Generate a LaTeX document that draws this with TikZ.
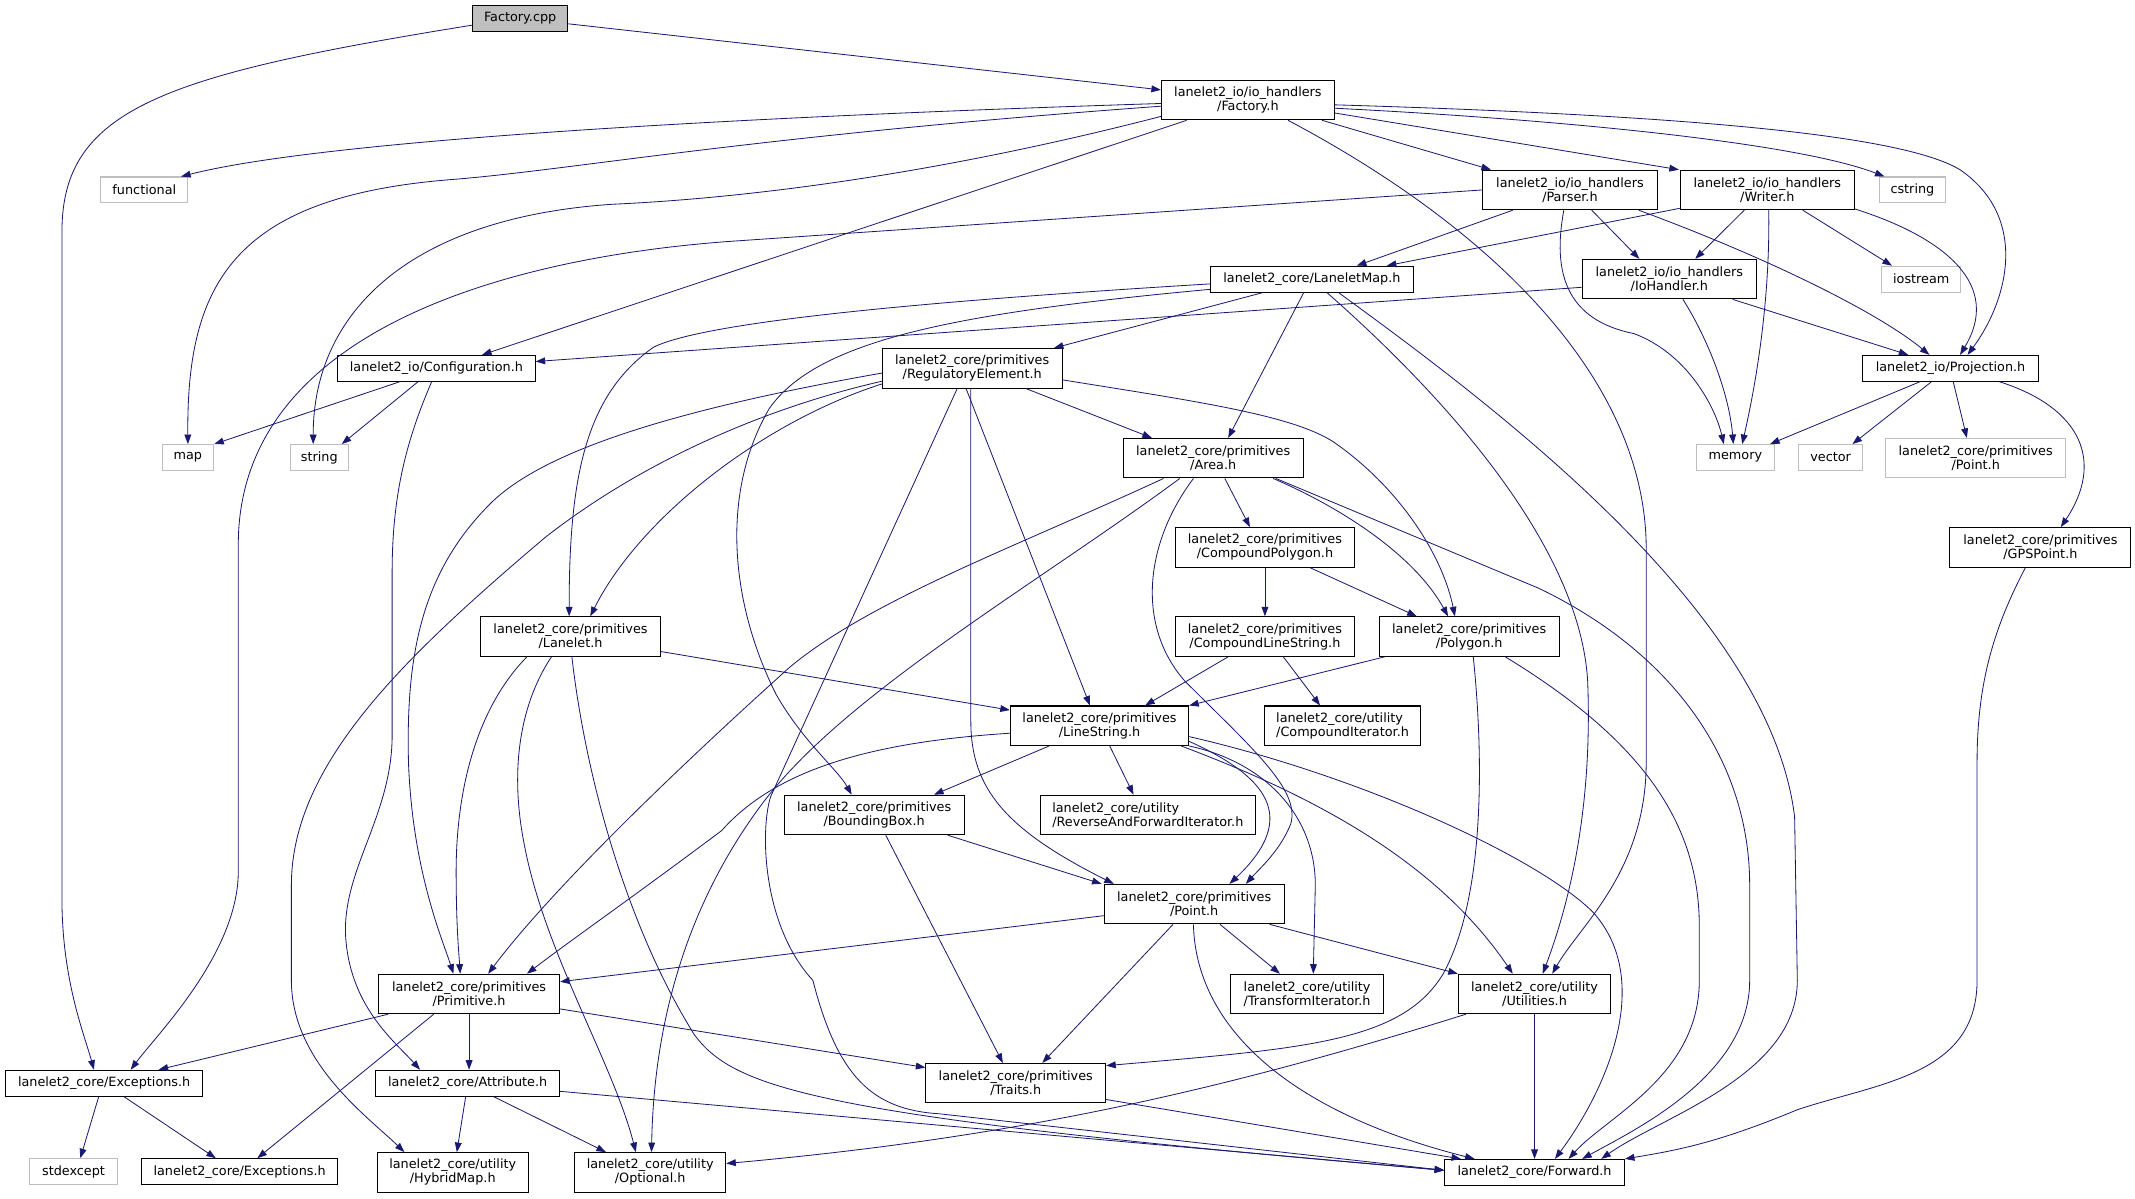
\documentclass[tikz,border=0pt]{standalone}
\usepackage{fontspec}
\setmainfont{DejaVu Sans}
\usetikzlibrary{arrows.meta}
\definecolor{navyblue}{RGB}{25,25,112}
\definecolor{lightgrey}{RGB}{191,191,191}
\definecolor{srcgrey}{RGB}{191,191,191}
\tikzset{
  hdr/.style={draw=black, fill=white, line width=0.75pt, inner sep=0pt, align=center, minimum height=29pt},
  hdrone/.style={hdr, minimum height=19pt},
  sys/.style={hdrone, draw=lightgrey},
  src/.style={hdrone, fill=srcgrey},
  inc/.style={draw=navyblue, line width=0.6pt, -{Triangle[length=7pt,width=5pt]}}
}
\begin{document}
\begin{tikzpicture}[x=1pt, y=-1pt, font=\fontsize{9.4pt}{10.4pt}\selectfont]
\fill[white] (0,0) rectangle (1568,880);
\useasboundingbox (0,0) rectangle (1568,880);
%FILES
\node[src, minimum width=70pt] (cpp) at (382,13.5) {Factory.cpp};
\node[hdr, minimum width=127pt] (facth) at (916.5,73.5) {lanelet2\_io/io\_handlers\\/Factory.h};
\node[sys, minimum width=64pt] (functional) at (106,139.5) {functional};
\node[hdrone, minimum width=145pt] (config) at (320.5,270.5) {lanelet2\_io/Configuration.h};
\node[hdr, minimum width=128pt] (parser) at (1153,139.5) {lanelet2\_io/io\_handlers\\/Parser.h};
\node[hdr, minimum width=128pt] (writer) at (1298,139.5) {lanelet2\_io/io\_handlers\\/Writer.h};
\node[sys, minimum width=49pt] (cstring) at (1404.5,139.5) {cstring};
\node[hdrone, minimum width=149pt] (lmap) at (963.5,205) {lanelet2\_core/LaneletMap.h};
\node[hdr, minimum width=128pt] (iohandler) at (1226,205) {lanelet2\_io/io\_handlers\\/IoHandler.h};
\node[sys, minimum width=58pt] (iostream) at (1411,205) {iostream};
\node[hdr, minimum width=132pt] (regelem) at (714,270.5) {lanelet2\_core/primitives\\/RegulatoryElement.h};
\node[hdrone, minimum width=129pt] (projection) at (1432.5,270.5) {lanelet2\_io/Projection.h};
\node[sys, minimum width=38pt] (map) at (138,336) {map};
\node[sys, minimum width=43pt] (string) at (234.5,336) {string};
\node[hdr, minimum width=132pt] (area) at (891,336.5) {lanelet2\_core/primitives\\/Area.h};
\node[sys, minimum width=57pt] (memory) at (1274.5,336) {memory};
\node[sys, minimum width=47pt] (vector) at (1344.5,336) {vector};
\node[sys, minimum height=29pt, minimum width=132pt] (extpoint) at (1451,336.5) {lanelet2\_core/primitives\\/Point.h};
\node[hdr, minimum width=132pt] (cpoly) at (929,402) {lanelet2\_core/primitives\\/CompoundPolygon.h};
\node[hdr, minimum width=133pt] (gps) at (1498.5,402) {lanelet2\_core/primitives\\/GPSPoint.h};
\node[hdr, minimum width=132pt] (lanelet) at (419,467.5) {lanelet2\_core/primitives\\/Lanelet.h};
\node[hdr, minimum width=132pt] (cls) at (929,467.5) {lanelet2\_core/primitives\\/CompoundLineString.h};
\node[hdr, minimum width=132pt] (polygon) at (1079,467.5) {lanelet2\_core/primitives\\/Polygon.h};
\node[hdr, minimum width=131pt] (ls) at (807.5,533) {lanelet2\_core/primitives\\/LineString.h};
\node[hdr, minimum width=114pt, align=left] (citer) at (986,533) {lanelet2\_core/utility\\/CompoundIterator.h};
\node[hdr, minimum width=132pt] (bbox) at (642,598.5) {lanelet2\_core/primitives\\/BoundingBox.h};
\node[hdr, minimum width=158pt, align=left] (rafi) at (843,598.5) {lanelet2\_core/utility\\/ReverseAndForwardIterator.h};
\node[hdr, minimum width=132pt] (point) at (877,664) {lanelet2\_core/primitives\\/Point.h};
\node[hdr, minimum width=133pt] (primitive) at (344.5,730) {lanelet2\_core/primitives\\/Primitive.h};
\node[hdr, minimum width=112pt, align=left] (titer) at (960,730) {lanelet2\_core/utility\\/TransformIterator.h};
\node[hdr, minimum width=112pt] (utilities) at (1127,730) {lanelet2\_core/utility\\/Utilities.h};
\node[hdrone, minimum width=145pt] (exc) at (76.5,795.5) {lanelet2\_core/Exceptions.h};
\node[hdrone, minimum width=135pt] (attribute) at (343.5,795.5) {lanelet2\_core/Attribute.h};
\node[hdr, minimum width=132pt] (traits) at (746,795.5) {lanelet2\_core/primitives\\/Traits.h};
\node[sys, minimum width=64pt] (stdexcept) at (54,860.5) {stdexcept};
\node[hdrone, minimum width=144pt] (excb) at (176,860.5) {lanelet2\_core/Exceptions.h};
\node[hdr, minimum width=111pt] (hybrid) at (332.5,861) {lanelet2\_core/utility\\/HybridMap.h};
\node[hdr, minimum width=111pt] (optional) at (477.5,861) {lanelet2\_core/utility\\/Optional.h};
\node[hdrone, minimum width=132pt] (forward) at (1127,861) {lanelet2\_core/Forward.h};
%Factory.cpp
\draw[inc] ([yshift=-4pt]cpp.east) -- ([yshift=7.5pt]facth.west);
\draw[inc] ([yshift=-5pt]cpp.west) .. controls (120,55) and (45.5,80) .. (45.5,170) -- (45.5,660) .. controls (45.5,720) and (62,760) .. ([xshift=-7.5pt]exc.north);
%Factory.h
\draw[inc] ([yshift=-2.5pt]facth.west) .. controls (600,84) and (250,100) .. ([xshift=27pt]functional.north);
\draw[inc] ([yshift=-4.5pt]facth.west) .. controls (550,100) and (420,125) .. (330,132) .. controls (170,145) and (137,210) .. (map.north);
\draw[inc] ([yshift=-12pt]facth.west) .. controls (700,125) and (560,145) .. (450,150) .. controls (300,160) and (230,230) .. ([xshift=-4.5pt]string.north);
\draw[inc] ([xshift=-45pt]facth.south) -- ([xshift=33.5pt]config.north);
\draw[inc] ([xshift=54.5pt]facth.south) -- ([xshift=-58pt]parser.north);
\draw[inc] ([yshift=-9.5pt]facth.east) -- ([xshift=-65pt]writer.north);
\draw[inc] ([yshift=-6pt]facth.east) .. controls (1150,88) and (1320,105) .. ([xshift=-20.5pt]cstring.north);
\draw[inc] ([yshift=-3.5pt]facth.east) .. controls (1250,85) and (1400,100) .. (1440,125) .. controls (1490,160) and (1475,220) .. ([xshift=12.5pt]projection.north);
\draw[inc] ([xshift=29.5pt]facth.south) .. controls (1100,170) and (1207,280) .. (1209,400) -- (1209,560) .. controls (1209,640) and (1160,680) .. ([xshift=13pt]utilities.north);
%Parser.h, Writer.h, IoHandler.h
\draw[inc] (parser.west) -- (540,177) .. controls (380,188) and (175,240) .. (175,400) -- (175,640) .. controls (175,700) and (115,760) .. ([xshift=19.5pt]exc.north);
\draw[inc] ([xshift=-42pt]parser.south) -- ([xshift=33pt]lmap.north);
\draw[inc] ([yshift=-13.5pt]writer.west) -- ([xshift=55pt]lmap.north);
\draw[inc] ([xshift=16pt]parser.south) -- ([xshift=-22pt]iohandler.north);
\draw[inc] ([xshift=-17pt]writer.south) -- ([xshift=19pt]iohandler.north);
\draw[inc] ([xshift=-4.5pt]parser.south) .. controls (1140,200) and (1150,235) .. (1200,245) .. controls (1240,260) and (1260,300) .. ([xshift=-8.5pt]memory.north);
\draw[inc] ([xshift=1pt]writer.south) .. controls (1300,220) and (1290,280) .. ([xshift=5pt]memory.north);
\draw[inc] ([xshift=10pt]iohandler.south) .. controls (1255,250) and (1270,290) .. ([xshift=-1.5pt]memory.north);
\draw[inc] ([xshift=26pt]writer.south) -- ([xshift=-21.5pt]iostream.north);
\draw[inc] ([yshift=-14pt]writer.east) .. controls (1430,175) and (1470,210) .. ([xshift=7pt]projection.north);
\draw[inc] ([xshift=50.5pt]parser.south) .. controls (1300,190) and (1380,230) .. ([xshift=-15.5pt]projection.north);
\draw[inc] ([xshift=46.5pt]iohandler.south) -- ([xshift=-31pt]projection.north);
\draw[inc] ([yshift=-6pt]iohandler.west) -- ([yshift=5pt]config.east);
%Projection.h
\draw[inc] ([xshift=-22.5pt]projection.south) -- ([xshift=25.5pt]memory.north);
\draw[inc] ([xshift=-14pt]projection.south) -- ([xshift=16pt]vector.north);
\draw[inc] ([xshift=2pt]projection.south) -- ([xshift=-6.5pt]extpoint.north);
\draw[inc] ([xshift=36pt]projection.south) .. controls (1530,300) and (1545,340) .. ([xshift=15pt]gps.north);
\draw[inc] ([xshift=-11pt]gps.south) .. controls (1465,460) and (1452,500) .. (1452,560) -- (1452,720) .. controls (1452,790) and (1380,795) .. (1320,815) .. controls (1260,840) and (1230,845) .. (forward.north east);
%LaneletMap.h
\draw[inc] ([xshift=-36pt]lmap.south) -- ([xshift=60pt]regelem.north);
\draw[inc] ([xshift=-6pt]lmap.south) -- ([xshift=11pt]area.north);
\draw[inc] ([yshift=-3.5pt]lmap.west) .. controls (700,220) and (520,235) .. (480,255) .. controls (430,290) and (418,350) .. ([xshift=-1pt]lanelet.north);
\draw[inc] ([yshift=-7.5pt]lmap.west) .. controls (700,230) and (600,250) .. (565,300) .. controls (530,360) and (535,440) .. (570,510) .. controls (590,545) and (615,565) .. ([xshift=-16.5pt]bbox.north);
\draw[inc] ([xshift=11pt]lmap.south) .. controls (1060,290) and (1160,400) .. (1166,500) .. controls (1170,600) and (1150,670) .. ([xshift=6pt]utilities.north);
\draw[inc] ([xshift=19.5pt]lmap.south) .. controls (1100,300) and (1300,450) .. (1318,600) -- (1320,720) .. controls (1320,790) and (1220,820) .. ([xshift=49pt]forward.north);
%RegulatoryElement.h
\draw[inc] ([xshift=39.5pt]regelem.south) -- ([xshift=-45pt]area.north);
\draw[inc] ([yshift=-8.5pt]regelem.east) .. controls (880,295) and (950,305) .. (980,325) .. controls (1030,360) and (1060,410) .. ([xshift=-10.5pt]polygon.north);
\draw[inc] ([xshift=-4.5pt]regelem.south) -- ([xshift=-7pt]ls.north);
\draw[inc] ([xshift=-1pt]regelem.south) -- (713,530) .. controls (713,580) and (740,610) .. ([xshift=-59pt]point.north);
\draw[inc] ([yshift=-11.5pt]regelem.west) .. controls (560,310) and (470,380) .. ([xshift=14.5pt]lanelet.north);
\draw[inc] ([yshift=-3.5pt]regelem.west) .. controls (500,300) and (400,330) .. (360,370) .. controls (310,420) and (298,480) .. (300,560) .. controls (303,640) and (325,690) .. ([xshift=-11.5pt]primitive.north);
\draw[inc] ([yshift=-9.5pt]regelem.west) .. controls (560,300) and (470,340) .. (400,395) .. controls (300,480) and (214,560) .. (214,650) -- (214,720) .. controls (214,780) and (270,820) .. ([xshift=-35.5pt]hybrid.north);
\draw[inc] ([xshift=-11pt]regelem.south) -- (566,585) .. controls (558,610) and (560,680) .. (597,720) .. controls (615,790) and (640,815) .. (690,818) -- ([yshift=1.5pt]forward.west);
%Area.h
\draw[inc] ([xshift=8.5pt]area.south) -- ([xshift=-11pt]cpoly.north);
\draw[inc] ([xshift=44pt]area.south) .. controls (990,375) and (1040,410) .. ([xshift=-15.5pt]polygon.north);
\draw[inc] ([xshift=46pt]area.south) -- (1130,432) .. controls (1230,480) and (1285,560) .. (1285,650) -- (1285,720) .. controls (1285,790) and (1200,830) .. ([xshift=35pt]forward.north);
\draw[inc] ([xshift=-36.5pt]area.south) .. controls (750,400) and (640,440) .. (580,490) .. controls (480,580) and (400,660) .. ([xshift=14pt]primitive.north);
\draw[inc] ([xshift=-24.5pt]area.south) .. controls (760,430) and (620,510) .. (560,590) .. controls (500,670) and (480,760) .. ([xshift=1pt]optional.north);
\draw[inc] ([xshift=-14.5pt]area.south) .. controls (840,400) and (835,460) .. (870,500) .. controls (920,550) and (955,580) .. (948,605) .. controls (940,625) and (925,638) .. ([xshift=38pt]point.north);
%CompoundPolygon.h, CompoundLineString.h, Polygon.h
\draw[inc] (cpoly) -- (cls);
\draw[inc] ([xshift=33pt]cpoly.south) -- ([xshift=-38.5pt]polygon.north);
\draw[inc] ([xshift=-27pt]cls.south) -- ([xshift=33.5pt]ls.north);
\draw[inc] ([xshift=13.5pt]cls.south) -- ([xshift=-16.5pt]citer.north);
\draw[inc] ([xshift=-62pt]polygon.south) -- (ls.north east);
\draw[inc] ([xshift=3pt]polygon.south) .. controls (1090,560) and (1090,660) .. (1060,715) .. controls (1030,765) and (960,770) .. ([yshift=-2pt]traits.north east);
\draw[inc] ([xshift=26.5pt]polygon.south) .. controls (1200,540) and (1248,600) .. (1248,680) -- (1248,720) .. controls (1248,790) and (1180,820) .. ([xshift=25pt]forward.north);
%LineString.h
\draw[inc] ([xshift=-37pt]ls.south) -- ([xshift=44pt]bbox.north);
\draw[inc] ([xshift=7.5pt]ls.south) -- ([xshift=-10.5pt]rafi.north);
\draw[inc] ([yshift=-5.5pt]ls.west) .. controls (640,545) and (570,565) .. (530,610) .. controls (470,655) and (420,690) .. ([xshift=42.5pt]primitive.north);
\draw[inc] ([yshift=-11.5pt]ls.east) .. controls (930,570) and (955,600) .. ([xshift=26pt]point.north);
\draw[inc] (ls.south east) .. controls (930,560) and (966,600) .. (966,650) -- ([xshift=4.5pt]titer.north);
\draw[inc] ([xshift=60pt]ls.south) .. controls (980,590) and (1060,640) .. ([xshift=-16pt]utilities.north);
\draw[inc] ([yshift=-8pt]ls.east) .. controls (1000,570) and (1130,630) .. (1170,670) .. controls (1215,720) and (1180,800) .. ([xshift=15pt]forward.north);
%BoundingBox.h
\draw[inc] ([xshift=54pt]bbox.south) -- ([xshift=-68pt]point.north);
\draw[inc] ([xshift=8.5pt]bbox.south) -- ([xshift=-9.5pt]traits.north);
%Point.h
\draw[inc] ([yshift=-8.5pt]point.west) -- ([yshift=9pt]primitive.east);
\draw[inc] ([xshift=-15.5pt]point.south) -- ([xshift=19.5pt]traits.north);
\draw[inc] ([xshift=19pt]point.south) -- ([xshift=-20pt]titer.north);
\draw[inc] ([xshift=55.5pt]point.south) -- (utilities.north west);
\draw[inc] ([xshift=-0.5pt]point.south) .. controls (878,750) and (940,815) .. ([xshift=-44pt]forward.north);
%Primitive.h
\draw[inc] ([xshift=-59.5pt]primitive.south) -- ([xshift=40pt]exc.north);
\draw[inc] ([xshift=-26pt]primitive.south) -- ([xshift=13pt]excb.north);
\draw[inc] (primitive.south) -- (primitive.south |- attribute.north);
\draw[inc] ([yshift=-11pt]primitive.east) -- ([yshift=11.5pt]traits.west);
%Attribute.h
\draw[inc] ([xshift=-1.5pt]attribute.south) -- ([xshift=3pt]hybrid.north);
\draw[inc] ([xshift=19pt]attribute.south) -- ([xshift=-32.5pt]optional.north);
\draw[inc] ([yshift=-6pt]attribute.east) -- ([yshift=1.5pt]forward.west);
%Lanelet.h
\draw[inc] ([yshift=-11pt]lanelet.east) -- ([yshift=11.5pt]ls.west);
\draw[inc] ([xshift=-32pt]lanelet.south) .. controls (350,520) and (335,580) .. (335,640) .. controls (335,680) and (337,700) .. ([xshift=-6.5pt]primitive.north);
\draw[inc] ([xshift=-14pt]lanelet.south) .. controls (380,520) and (375,570) .. (385,620) .. controls (400,700) and (450,780) .. ([xshift=-10.5pt]optional.north);
\draw[inc] ([xshift=1pt]lanelet.south) .. controls (430,570) and (460,680) .. (510,760) .. controls (540,800) and (600,820) .. ([yshift=1.5pt]forward.west);
%Configuration.h
\draw[inc] ([xshift=-27pt]config.south) -- (map.north east);
\draw[inc] ([xshift=-13.5pt]config.south) -- ([xshift=16.5pt]string.north);
\draw[inc] ([xshift=-3.5pt]config.south) .. controls (300,320) and (288,360) .. (288,420) -- (288,540) .. controls (288,600) and (250,640) .. (254,690) .. controls (258,740) and (290,765) .. ([xshift=-35pt]attribute.north);
%Exceptions.h
\draw[inc] ([xshift=-4pt]exc.south) -- ([xshift=5pt]stdexcept.north);
\draw[inc] ([xshift=14.5pt]exc.south) -- ([xshift=-17.5pt]excb.north);
%Traits.h, Utilities.h
\draw[inc] ([yshift=-12pt]traits.east) -- ([xshift=-54pt]forward.north);
\draw[inc] ([xshift=-50.5pt]utilities.south) .. controls (900,800) and (750,835) .. ([yshift=6.5pt]optional.east);
\draw[inc] (utilities) -- (forward);
\end{tikzpicture}
\end{document}
